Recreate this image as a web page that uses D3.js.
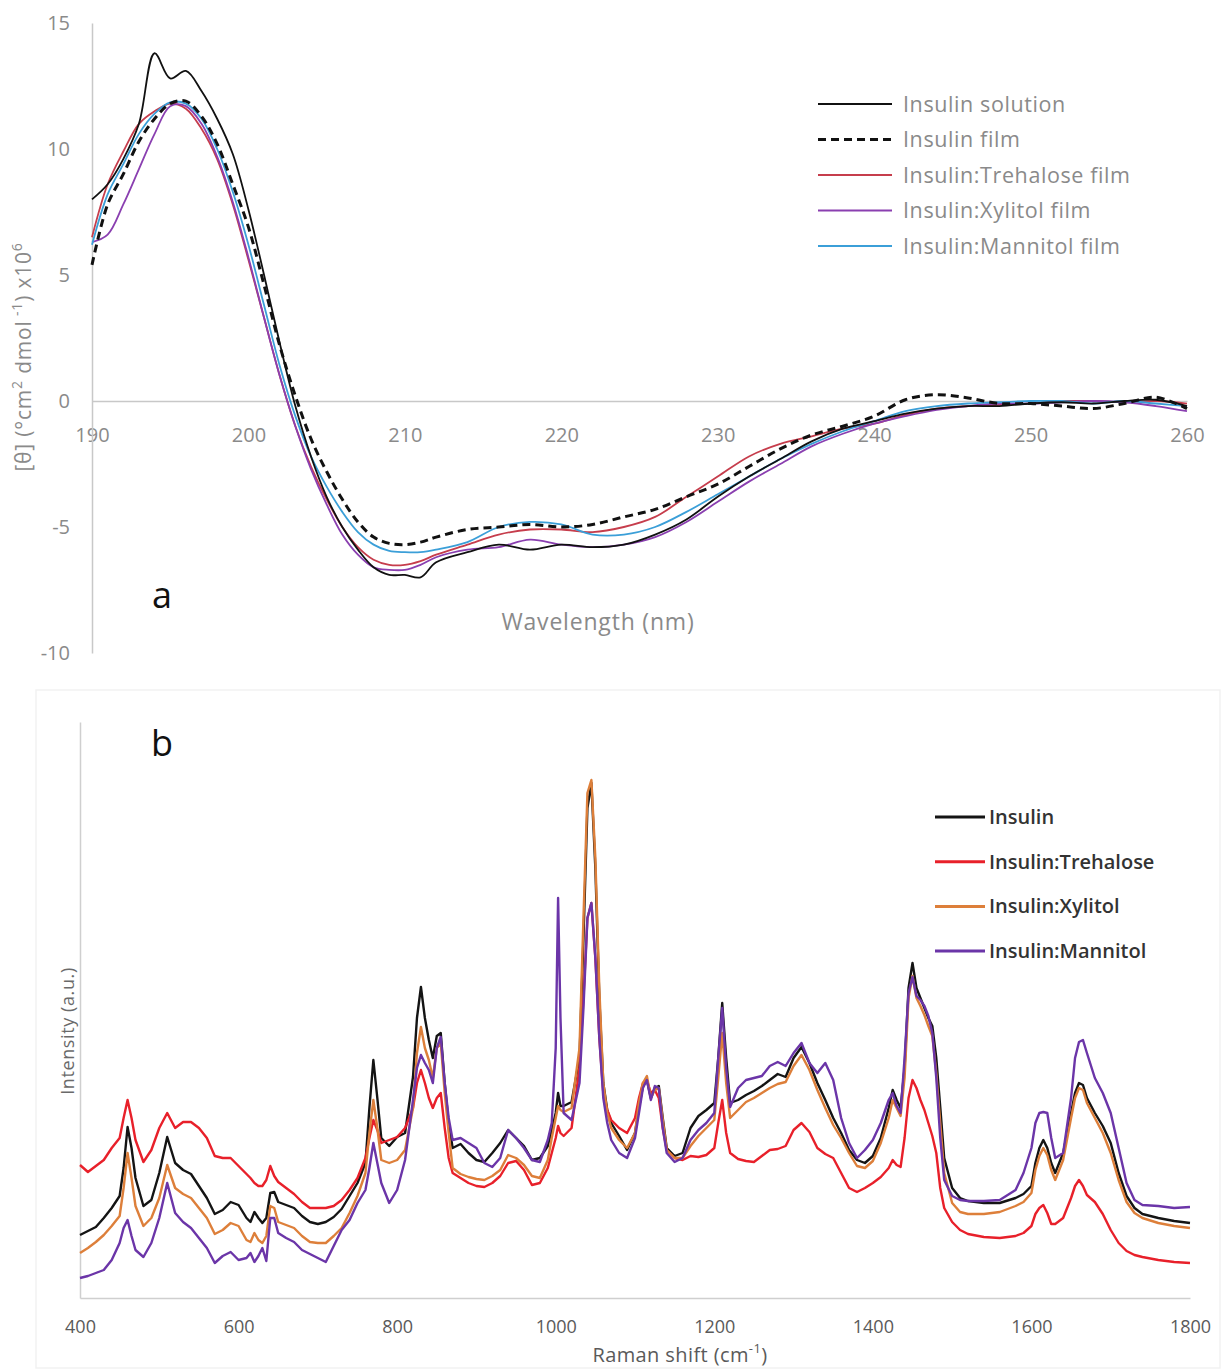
<!DOCTYPE html>
<html><head><meta charset="utf-8">
<script src="https://cdn.jsdelivr.net/npm/d3@7"></script>
<style>
html,body{margin:0;padding:0;background:#fff;}
svg{display:block;font-family:"Open Sans",Lato,sans-serif;}
</style></head>
<body>
<svg id="chart" width="1224" height="1370"></svg>
<script>
// ---------- Panel a : CD spectra ----------
const cdWavelength = [190,191,192,193,194,195,196,197,198,199,200,201,202,203,204,205,206,207,208,209,210,211,212,214,216,218,220,222,224,226,228,230,232,234,236,238,240,242,244,246,248,250,252,254,256,258,260];
const cdSolution   = [8.0,8.6,9.6,11.0,13.8,12.8,13.1,12.3,11.2,9.8,7.6,5.0,2.3,-0.2,-2.2,-3.8,-5.0,-5.9,-6.6,-6.9,-6.9,-7.0,-6.4,-6.0,-5.7,-5.9,-5.7,-5.8,-5.7,-5.3,-4.7,-3.8,-3.0,-2.3,-1.6,-1.1,-0.8,-0.5,-0.3,-0.2,-0.2,-0.1,-0.05,-0.1,0.0,0.05,-0.2];
const cdFilm       = [5.4,7.8,9.0,10.3,11.2,11.8,11.9,11.3,10.2,8.6,6.9,4.6,2.2,0.2,-1.5,-2.8,-3.9,-4.8,-5.4,-5.65,-5.7,-5.6,-5.4,-5.1,-5.0,-4.9,-5.0,-4.9,-4.6,-4.3,-3.8,-3.3,-2.6,-1.9,-1.35,-1.0,-0.6,0.05,0.25,0.12,-0.1,-0.1,-0.2,-0.3,-0.1,0.15,-0.3];
const cdTrehalose  = [6.5,8.6,9.9,11.0,11.5,11.8,11.6,10.8,9.6,7.8,5.6,3.3,1.0,-1.0,-2.6,-3.9,-5.0,-5.8,-6.3,-6.5,-6.5,-6.35,-6.1,-5.7,-5.3,-5.1,-5.1,-5.2,-5.0,-4.6,-3.8,-3.0,-2.2,-1.7,-1.4,-1.1,-0.9,-0.55,-0.3,-0.2,-0.15,-0.1,0.0,0.0,-0.05,0.0,-0.1];
const cdXylitol    = [6.3,6.6,7.8,9.2,10.6,11.7,11.7,11.0,9.7,7.9,5.7,3.3,1.0,-1.0,-2.7,-4.1,-5.3,-6.1,-6.6,-6.7,-6.7,-6.5,-6.2,-5.9,-5.8,-5.5,-5.7,-5.8,-5.7,-5.4,-4.8,-4.0,-3.2,-2.5,-1.8,-1.3,-0.9,-0.6,-0.35,-0.2,-0.1,-0.1,-0.05,0.0,-0.05,-0.2,-0.4];
const cdMannitol   = [6.2,8.2,9.4,10.6,11.4,11.85,11.8,11.2,10.0,8.3,6.2,3.8,1.4,-0.6,-2.2,-3.4,-4.4,-5.2,-5.7,-5.95,-6.0,-6.0,-5.9,-5.6,-5.0,-4.8,-4.9,-5.3,-5.3,-5.0,-4.4,-3.7,-3.0,-2.3,-1.7,-1.2,-0.8,-0.4,-0.2,-0.1,-0.05,0.0,0.0,-0.1,0.0,-0.1,-0.2];
const cdNames  = ["Insulin solution","Insulin film","Insulin:Trehalose film","Insulin:Xylitol film","Insulin:Mannitol film"];
const cdColors = ["#111111","#111111","#c63d4c","#8a3fb0","#3b9fd8"];
const cdXTicks = [190,200,210,220,230,240,250,260];
const cdYTicks = [-10,-5,0,5,10,15];

// ---------- Panel b : Raman spectra ----------
const ramanShift = [400,410,420,430,440,450,455,460,465,470,480,490,500,510,520,530,540,550,560,570,580,590,600,610,615,620,625,630,635,640,645,650,660,670,680,690,700,710,720,730,740,750,760,765,770,775,780,790,800,810,820,825,830,835,840,845,850,855,860,865,870,880,890,900,910,920,930,940,950,960,970,980,990,995,1000,1003,1006,1010,1020,1030,1035,1040,1045,1050,1055,1060,1065,1070,1080,1090,1100,1105,1110,1115,1120,1125,1130,1135,1140,1150,1160,1170,1180,1190,1200,1205,1210,1215,1220,1230,1240,1250,1260,1270,1280,1290,1300,1310,1320,1330,1340,1350,1360,1370,1380,1390,1400,1410,1420,1425,1430,1435,1440,1445,1450,1455,1460,1465,1470,1475,1480,1485,1490,1500,1510,1520,1540,1560,1580,1590,1600,1605,1610,1615,1620,1625,1630,1640,1650,1655,1660,1665,1670,1680,1690,1700,1710,1720,1730,1740,1760,1780,1800];
const ramanInsulin = [63,67,71,80,90,102,130,171,150,120,92,98,125,161,135,128,124,112,100,84,88,96,93,80,76,86,80,75,80,105,106,96,93,90,82,76,74,76,81,89,102,115,135,190,238,200,160,152,161,165,221,280,311,280,258,240,262,265,215,175,150,154,145,138,136,145,155,168,160,152,138,140,152,168,185,205,192,192,196,240,360,490,515,430,300,215,188,175,162,148,165,190,212,218,200,210,212,180,150,142,145,170,182,188,195,240,295,240,195,198,203,207,212,218,224,221,240,251,235,215,198,180,165,148,138,135,142,160,190,208,198,190,230,310,335,310,300,290,280,272,240,191,140,110,100,97,95,95,100,104,112,135,150,158,150,135,125,145,185,205,215,213,200,185,172,155,125,102,90,84,80,77,75];
const ramanTrehalose = [133,126,132,138,150,160,180,198,180,158,136,148,170,185,170,176,176,170,160,142,140,140,132,124,120,115,112,112,118,132,122,116,110,104,96,90,90,90,92,98,108,120,140,160,178,168,155,158,161,170,190,215,228,215,200,190,200,205,170,140,125,120,115,112,111,115,122,135,137,128,113,115,130,145,160,172,165,162,170,230,300,380,395,340,260,205,188,178,170,165,180,200,215,218,205,208,200,170,148,140,138,142,141,143,150,175,198,165,145,139,137,136,142,148,149,152,168,175,166,150,144,140,125,110,106,110,115,121,130,138,133,131,160,200,218,210,198,188,175,162,145,110,90,76,68,64,61,60,62,65,72,84,90,93,85,74,74,80,100,112,118,112,103,96,84,68,55,47,43,41,38,36,35];
const ramanXylitol = [45,50,56,63,72,82,110,145,120,92,72,80,100,133,110,104,100,90,80,64,68,75,72,58,56,65,58,55,62,92,90,76,73,70,62,56,55,55,62,70,85,102,125,165,198,170,138,135,138,148,190,245,271,250,238,220,250,255,205,165,130,124,121,119,118,122,128,143,140,133,122,120,138,160,180,192,188,186,190,250,380,505,518,440,310,215,185,170,158,150,165,195,215,222,200,208,210,178,148,140,140,152,162,170,178,220,265,215,180,188,196,200,205,210,214,216,232,243,228,208,190,173,160,145,132,130,137,155,180,198,190,182,220,300,322,300,292,283,272,262,225,175,125,95,86,84,84,86,92,96,105,128,142,150,143,128,118,138,180,200,210,208,195,180,165,145,118,96,85,80,75,72,70];
const ramanMannitol = [20,22,25,28,38,55,70,78,62,48,41,55,80,115,85,76,70,60,50,35,42,46,38,40,45,36,42,50,37,80,80,65,60,56,48,44,40,36,52,68,78,95,108,130,155,135,115,95,108,138,198,230,243,235,228,215,250,261,215,180,158,160,155,150,135,131,140,168,160,150,138,136,158,175,250,400,280,185,178,215,290,380,395,340,260,200,175,158,145,140,160,185,210,218,198,212,210,170,145,136,140,158,168,175,185,240,290,230,191,210,218,220,222,232,236,232,245,255,235,225,235,218,180,155,140,148,158,175,198,205,192,185,240,305,321,302,298,292,282,265,220,160,118,102,98,97,97,98,108,125,150,175,185,186,185,160,140,145,200,240,256,258,245,220,205,185,150,115,98,93,92,90,91];
const ramanNames  = ["Insulin","Insulin:Trehalose","Insulin:Xylitol","Insulin:Mannitol"];
const ramanColors = ["#141414","#e8202a","#dd7f3a","#6b35a8"];
const ramanXTicks = [400,600,800,1000,1200,1400,1600,1800];

const svg = d3.select("#chart");

// ================= Panel a =================
const xA = d3.scaleLinear().domain([190,260]).range([92,1187]);
const yA = d3.scaleLinear().domain([-10,15]).range([653,23]);
const greyTxt = "#8a8a8a";

const gxA = svg.append("g").attr("transform",`translate(0,${yA(0)})`)
  .call(d3.axisBottom(xA).tickValues(cdXTicks).tickSize(0).tickSizeOuter(0).tickPadding(27).tickFormat(d=>String(d)));
gxA.select(".domain").attr("stroke","#c8c8c8").attr("stroke-width",1.5);
gxA.selectAll("text").attr("fill",greyTxt).attr("font-size",20).attr("font-family","Open Sans");

const gyA = svg.append("g").attr("transform",`translate(${xA(190)},0)`)
  .call(d3.axisLeft(yA).tickValues(cdYTicks).tickSize(0).tickSizeOuter(0).tickPadding(22).tickFormat(d=>String(d)));
gyA.select(".domain").attr("stroke","#c8c8c8").attr("stroke-width",1.5);
gyA.selectAll("text").attr("fill",greyTxt).attr("font-size",20).attr("font-family","Open Sans");

const cdSeries = [cdSolution,cdFilm,cdTrehalose,cdXylitol,cdMannitol];
const lineA = d3.line().curve(d3.curveCatmullRom.alpha(0.5));
const drawOrderA = [2,3,4,0,1];
drawOrderA.forEach(i=>{
  const pts = cdWavelength.map((w,k)=>[xA(w),yA(cdSeries[i][k])]);
  svg.append("path").attr("d",lineA(pts)).attr("fill","none")
    .attr("stroke",cdColors[i]).attr("stroke-width", i===1?3:1.8)
    .attr("stroke-dasharray", i===1?"8,5":null)
    .attr("stroke-linejoin","round");
});

// legend a
const legA = svg.append("g");
cdNames.forEach((n,i)=>{
  const y = 104 + i*35.5;
  legA.append("line").attr("x1",818).attr("x2",892).attr("y1",y).attr("y2",y)
    .attr("stroke",cdColors[i]).attr("stroke-width", i===1?3:2.2)
    .attr("stroke-dasharray", i===1?"8,5":null);
  legA.append("text").attr("x",903).attr("y",y).attr("dy","0.35em")
    .attr("fill",greyTxt).attr("font-size",21.5).attr("letter-spacing",0.6).text(n);
});

// titles a
svg.append("text").attr("x",598).attr("y",622).attr("dy","0.35em").attr("text-anchor","middle")
  .attr("fill",greyTxt).attr("font-size",23).attr("letter-spacing",0.8).text("Wavelength (nm)");
const yt = svg.append("text").attr("transform","translate(24,357) rotate(-90)")
  .attr("text-anchor","middle").attr("dy","0.35em").attr("fill",greyTxt).attr("font-size",21).attr("letter-spacing",0.8);
yt.append("tspan").text("[θ] (°cm");
yt.append("tspan").attr("baseline-shift","super").attr("font-size",14).text("2");
yt.append("tspan").text(" dmol");
yt.append("tspan").attr("baseline-shift","super").attr("font-size",14).text(" -1");
yt.append("tspan").text(") x10");
yt.append("tspan").attr("baseline-shift","super").attr("font-size",14).text("6");
svg.append("text").attr("x",162).attr("y",595).attr("dy","0.35em").attr("text-anchor","middle")
  .attr("fill","#111").attr("font-size",36).text("a");

// ================= Panel b =================
svg.append("rect").attr("x",36).attr("y",690).attr("width",1184).attr("height",678)
  .attr("fill","none").attr("stroke","#f2f2f2").attr("stroke-width",1.5);

const xB = d3.scaleLinear().domain([400,1800]).range([80,1190]);
const yB = d3.scaleLinear().domain([0,576]).range([1298,722]);

const gxB = svg.append("g").attr("transform",`translate(0,${yB(0)})`)
  .call(d3.axisBottom(xB).tickValues(ramanXTicks).tickSize(0).tickSizeOuter(0).tickPadding(22).tickFormat(d=>String(d)));
gxB.select(".domain").attr("stroke","#cfcfcf").attr("stroke-width",1.5);
gxB.selectAll("text").attr("fill","#5a5a5a").attr("font-size",18).attr("font-family","Open Sans");

const gyB = svg.append("g").attr("transform",`translate(${xB(400)},0)`)
  .call(d3.axisLeft(yB).tickValues([]).tickSize(0).tickSizeOuter(0));
gyB.select(".domain").attr("stroke","#cfcfcf").attr("stroke-width",1.5);

const ramanSeries = [ramanInsulin,ramanTrehalose,ramanXylitol,ramanMannitol];
const lineB = d3.line();
ramanSeries.forEach((s,i)=>{
  const pts = ramanShift.map((w,k)=>[xB(w),yB(s[k])]);
  svg.append("path").attr("d",lineB(pts)).attr("fill","none")
    .attr("stroke",ramanColors[i]).attr("stroke-width",2.4).attr("stroke-linejoin","round");
});

const legB = svg.append("g");
ramanNames.forEach((n,i)=>{
  const y = 817 + i*44.7;
  legB.append("line").attr("x1",935).attr("x2",985).attr("y1",y).attr("y2",y)
    .attr("stroke",ramanColors[i]).attr("stroke-width",3);
  legB.append("text").attr("x",989).attr("y",y).attr("dy","0.35em")
    .attr("fill","#333").attr("font-size",20).attr("font-weight",600).text(n);
});

const xt = svg.append("text").attr("x",680).attr("y",1355).attr("dy","0.35em").attr("text-anchor","middle")
  .attr("fill","#5a5a5a").attr("font-size",20).attr("letter-spacing",0.4);
xt.append("tspan").text("Raman shift (cm");
xt.append("tspan").attr("baseline-shift","super").attr("font-size",13).text("-1");
xt.append("tspan").text(")");
svg.append("text").attr("transform","translate(68,1031) rotate(-90)").attr("text-anchor","middle")
  .attr("dy","0.35em").attr("fill","#6a6a6a").attr("font-size",18).attr("letter-spacing",0.6).text("Intensity (a.u.)");
svg.append("text").attr("x",162).attr("y",743).attr("dy","0.35em").attr("text-anchor","middle")
  .attr("fill","#111").attr("font-size",36).text("b");
</script>
</body></html>
